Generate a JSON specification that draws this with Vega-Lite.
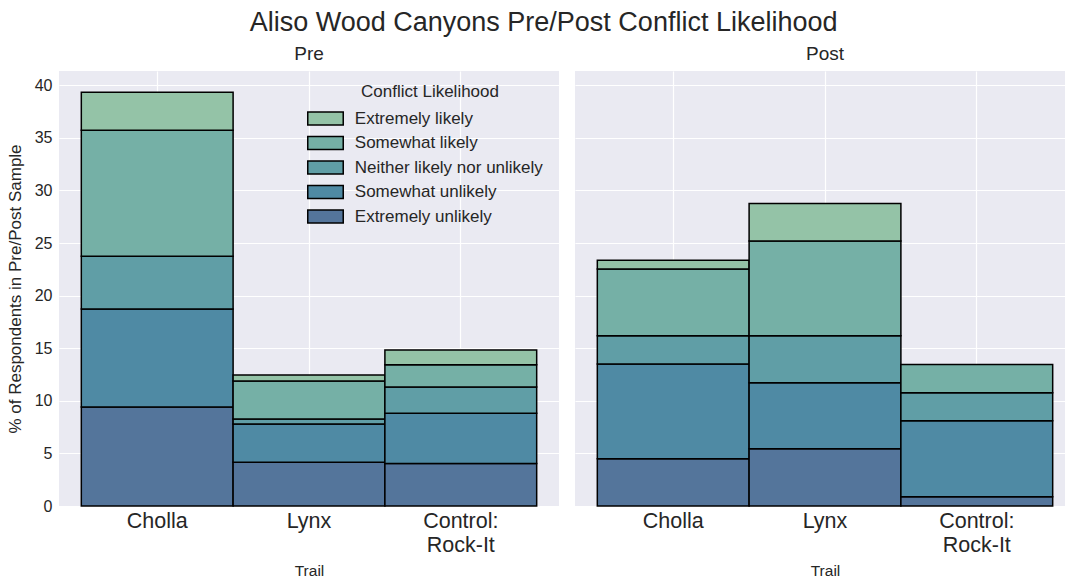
{
  "$schema": "https://vega.github.io/schema/vega-lite/v6.json",
  "padding": {"left": 6, "top": 9, "right": 0, "bottom": 0},
  "background": "white",
  "title": {
    "text": "Aliso Wood Canyons Pre/Post Conflict Likelihood",
    "fontSize": 27,
    "font": "Liberation Sans",
    "fontWeight": "normal",
    "color": "#262626",
    "anchor": "middle",
    "frame": "bounds",
    "dx": 3,
    "offset": 8
  },
  "data": {
    "values": [
      {"Period": "Pre", "Trail": "Cholla", "Likelihood": "Extremely unlikely", "Level": 1, "Pct": 9.41},
      {"Period": "Pre", "Trail": "Cholla", "Likelihood": "Somewhat unlikely", "Level": 2, "Pct": 9.31},
      {"Period": "Pre", "Trail": "Cholla", "Likelihood": "Neither likely nor unlikely", "Level": 3, "Pct": 5.03},
      {"Period": "Pre", "Trail": "Cholla", "Likelihood": "Somewhat likely", "Level": 4, "Pct": 11.97},
      {"Period": "Pre", "Trail": "Cholla", "Likelihood": "Extremely likely", "Level": 5, "Pct": 3.61},
      {"Period": "Pre", "Trail": "Lynx", "Likelihood": "Extremely unlikely", "Level": 1, "Pct": 4.15},
      {"Period": "Pre", "Trail": "Lynx", "Likelihood": "Somewhat unlikely", "Level": 2, "Pct": 3.64},
      {"Period": "Pre", "Trail": "Lynx", "Likelihood": "Neither likely nor unlikely", "Level": 3, "Pct": 0.48},
      {"Period": "Pre", "Trail": "Lynx", "Likelihood": "Somewhat likely", "Level": 4, "Pct": 3.61},
      {"Period": "Pre", "Trail": "Lynx", "Likelihood": "Extremely likely", "Level": 5, "Pct": 0.57},
      {"Period": "Pre", "Trail": "Control: Rock-It", "Likelihood": "Extremely unlikely", "Level": 1, "Pct": 4.05},
      {"Period": "Pre", "Trail": "Control: Rock-It", "Likelihood": "Somewhat unlikely", "Level": 2, "Pct": 4.76},
      {"Period": "Pre", "Trail": "Control: Rock-It", "Likelihood": "Neither likely nor unlikely", "Level": 3, "Pct": 2.5},
      {"Period": "Pre", "Trail": "Control: Rock-It", "Likelihood": "Somewhat likely", "Level": 4, "Pct": 2.12},
      {"Period": "Pre", "Trail": "Control: Rock-It", "Likelihood": "Extremely likely", "Level": 5, "Pct": 1.39},
      {"Period": "Post", "Trail": "Cholla", "Likelihood": "Extremely unlikely", "Level": 1, "Pct": 4.5},
      {"Period": "Post", "Trail": "Cholla", "Likelihood": "Somewhat unlikely", "Level": 2, "Pct": 8.99},
      {"Period": "Post", "Trail": "Cholla", "Likelihood": "Neither likely nor unlikely", "Level": 3, "Pct": 2.69},
      {"Period": "Post", "Trail": "Cholla", "Likelihood": "Somewhat likely", "Level": 4, "Pct": 6.34},
      {"Period": "Post", "Trail": "Cholla", "Likelihood": "Extremely likely", "Level": 5, "Pct": 0.85},
      {"Period": "Post", "Trail": "Lynx", "Likelihood": "Extremely unlikely", "Level": 1, "Pct": 5.45},
      {"Period": "Post", "Trail": "Lynx", "Likelihood": "Somewhat unlikely", "Level": 2, "Pct": 6.27},
      {"Period": "Post", "Trail": "Lynx", "Likelihood": "Neither likely nor unlikely", "Level": 3, "Pct": 4.46},
      {"Period": "Post", "Trail": "Lynx", "Likelihood": "Somewhat likely", "Level": 4, "Pct": 9.0},
      {"Period": "Post", "Trail": "Lynx", "Likelihood": "Extremely likely", "Level": 5, "Pct": 3.58},
      {"Period": "Post", "Trail": "Control: Rock-It", "Likelihood": "Extremely unlikely", "Level": 1, "Pct": 0.89},
      {"Period": "Post", "Trail": "Control: Rock-It", "Likelihood": "Somewhat unlikely", "Level": 2, "Pct": 7.22},
      {"Period": "Post", "Trail": "Control: Rock-It", "Likelihood": "Neither likely nor unlikely", "Level": 3, "Pct": 2.66},
      {"Period": "Post", "Trail": "Control: Rock-It", "Likelihood": "Somewhat likely", "Level": 4, "Pct": 2.69}
    ]
  },
  "facet": {
    "column": {
      "field": "Period",
      "type": "nominal",
      "sort": ["Pre", "Post"],
      "header": {
        "title": null,
        "labelFontSize": 19,
        "labelFont": "Liberation Sans",
        "labelColor": "#262626",
        "labelPadding": 7
      }
    }
  },
  "spacing": 16,
  "spec": {
    "width": 500,
    "height": 435,
    "mark": {"type": "bar", "stroke": "black", "strokeWidth": 1.5, "opacity": 1},
    "encoding": {
      "x": {
        "field": "Trail",
        "type": "nominal",
        "sort": ["Cholla", "Lynx", "Control: Rock-It"],
        "title": "Trail",
        "scale": {"paddingInner": 0, "paddingOuter": 0.147},
        "axis": {
          "labelAngle": 0,
          "labelFontSize": 21.5,
          "labelLineHeight": 24,
          "labelPadding": 3,
          "tickSize": 0,
          "domain": false,
          "grid": true,
          "bandPosition": 0.5,
          "titleFontSize": 15.5,
          "titlePadding": 8,
          "titleFontWeight": "normal",
          "labelExpr": "datum.label == 'Control: Rock-It' ? ['Control:', 'Rock-It'] : datum.label"
        }
      },
      "y": {
        "field": "Pct",
        "type": "quantitative",
        "stack": "zero",
        "title": "% of Respondents in Pre/Post Sample",
        "scale": {"domain": [0, 41.35], "nice": false, "zero": true},
        "axis": {
          "values": [0, 5, 10, 15, 20, 25, 30, 35, 40],
          "labelFontSize": 16,
          "labelPadding": 7,
          "tickSize": 0,
          "domain": false,
          "titleFontSize": 17,
          "titlePadding": 10,
          "titleFontWeight": "normal"
        }
      },
      "order": {"field": "Level", "type": "quantitative", "sort": "ascending"},
      "color": {
        "field": "Likelihood",
        "type": "nominal",
        "scale": {
          "domain": ["Extremely likely", "Somewhat likely", "Neither likely nor unlikely", "Somewhat unlikely", "Extremely unlikely"],
          "range": ["#94c3a7", "#75b0a6", "#609ea6", "#4f8aa4", "#54759b"]
        },
        "legend": {
          "title": "Conflict Likelihood",
          "orient": "none",
          "legendX": 258,
          "legendY": 13,
          "titleAnchor": "middle",
          "titleFontSize": 17,
          "titleFontWeight": "normal",
          "titleFont": "Liberation Sans",
          "titleColor": "#262626",
          "titlePadding": 9,
          "labelFontSize": 17,
          "labelFont": "Liberation Sans",
          "labelColor": "#262626",
          "labelLimit": 400,
          "labelOffset": 20.8,
          "symbolType": "M-2.77,-1H2.77V1H-2.77Z",
          "symbolSize": 164,
          "symbolStrokeColor": "black",
          "symbolStrokeWidth": 1.5,
          "symbolOpacity": 1,
          "rowPadding": 5.5
        }
      }
    }
  },
  "config": {
    "font": "Liberation Sans",
    "view": {"fill": "#eaeaf2", "stroke": null},
    "axis": {
      "gridColor": "white",
      "gridWidth": 1.2,
      "gridOpacity": 1,
      "labelColor": "#262626",
      "titleColor": "#262626",
      "labelFont": "Liberation Sans",
      "titleFont": "Liberation Sans"
    }
  }
}
